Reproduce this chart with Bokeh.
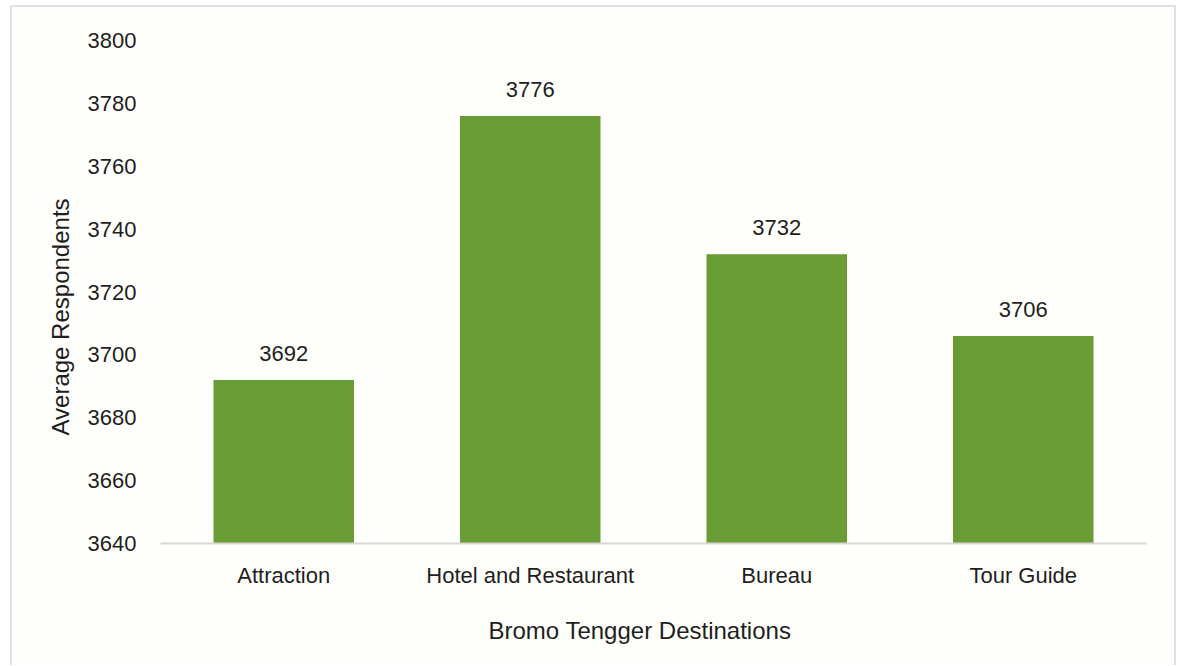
from bokeh.plotting import figure
from bokeh.models import Range1d, ColumnDataSource, LabelSet, FixedTicker, Title
from bokeh.core.properties import value
from bokeh.embed import file_html
from bokeh.resources import INLINE

categories = ["Attraction", "Hotel and Restaurant", "Bureau", "Tour Guide"]
values = [3692, 3776, 3732, 3706]
y_ticks = [3640, 3660, 3680, 3700, 3720, 3740, 3760, 3780, 3800]

FONT = "Liberation Sans"
TXT = "#1e1e1e"

src = ColumnDataSource(dict(cat=categories, val=values, lab=[str(v) for v in values]))

p = figure(x_range=categories, y_range=Range1d(3640, 3800),
           width=1166, height=660, output_backend="svg", toolbar_location=None,
           min_border_left=148, min_border_right=32, min_border_top=33, min_border_bottom=122)
p.styles = {"margin-left": "10px", "margin-top": "5px",
            "border-left": "2px solid #e4dfdf", "border-top": "2px solid #e4dfdf",
            "border-right": "2px solid #e4dfdf"}
p.background_fill_color = "#fefefb"
p.border_fill_color = "#fefefb"
p.outline_line_color = None
p.grid.grid_line_color = None

p.vbar(x="cat", top="val", bottom=3640, width=0.57, source=src,
       fill_color="#699c34", line_color=None)

labels = LabelSet(x="cat", y="val", text="lab", source=src, text_align="center",
                  text_baseline="bottom", y_offset=19, text_font=value(FONT),
                  text_font_size="22px", text_color=TXT)
p.add_layout(labels)

p.yaxis.ticker = FixedTicker(ticks=y_ticks)
p.yaxis.axis_line_color = None
p.yaxis.major_tick_line_color = None
p.yaxis.minor_tick_line_color = None
p.yaxis.major_label_standoff = 18
p.xaxis.axis_line_color = "#dcd5d5"
p.xaxis.axis_line_width = 2
p.xaxis.major_tick_line_color = None
p.xaxis.minor_tick_line_color = None
p.xaxis.major_label_standoff = 13

for ax in (p.xaxis, p.yaxis):
    ax.major_label_text_font = FONT
    ax.major_label_text_font_size = "22px"
    ax.major_label_text_color = TXT

ytitle = Title(text="Average Respondents", align="left", offset=108,
               text_font=FONT, text_font_size="24px", text_font_style="normal",
               text_color=TXT, standoff=21)
xtitle = Title(text="Bromo Tengger Destinations", align="left", offset=328,
               text_font=FONT, text_font_size="24px", text_font_style="normal",
               text_color=TXT, standoff=48)
p.add_layout(ytitle, "left")
p.add_layout(xtitle, "below")

open("out.html", "w").write(file_html(p, INLINE))
